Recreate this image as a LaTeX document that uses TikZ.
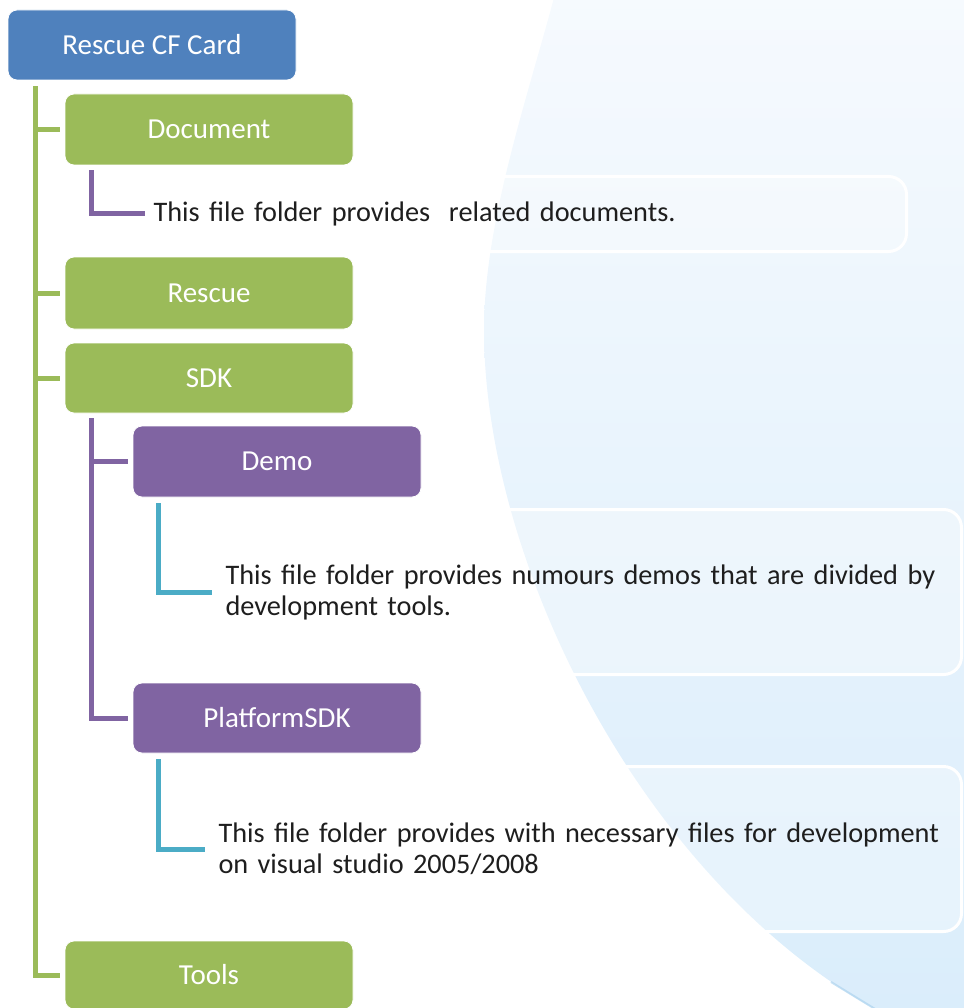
\documentclass[tikz,border=0pt]{standalone}
\usepackage{fontspec}
\setmainfont{Carlito}
\usepackage{xcolor}
\hyphenpenalty=10000

\definecolor{cardblue}{HTML}{4F81BD}
\definecolor{dirgreen}{HTML}{9BBB59}
\definecolor{subpurple}{HTML}{8064A2}
\definecolor{notecyan}{HTML}{4BACC6}
\definecolor{skytop}{HTML}{F6FAFE}
\definecolor{skybottom}{HTML}{DAEDFB}
\definecolor{skyrim}{HTML}{A6CFEC}
\definecolor{notetext}{HTML}{1E1E1E}

\tikzset{
	folder/.style={rectangle, rounded corners=9pt, draw=white, line width=0.8pt, minimum width=288pt, minimum height=71pt, inner sep=0pt, text=white, font=\fontsize{29}{31}\selectfont},
	note/.style={rectangle, rounded corners=18pt, draw=white, line width=3pt, fill=white, fill opacity=0.3, text opacity=1, text=notetext, align=left, anchor=north west, inner ysep=0pt, font=\fontsize{28.3}{31}\selectfont},
	trunk/.style={dirgreen, line width=5pt},
	subline/.style={subpurple, line width=5pt},
	noteline/.style={notecyan, line width=5pt}
}

\begin{document}
\begin{tikzpicture}[x=1pt, y=-1pt]
	\useasboundingbox (0,0) rectangle (963,1008);

	\shade[top color=skytop, bottom color=skybottom] (556,-10) .. controls (530,90) and (484,220) .. (484,330) .. controls (484,560) and (640,880) .. (880,1012) -- (970,1012) -- (970,-10) -- cycle;
	\draw[skyrim, line width=2pt, opacity=0.6] (831,982) -- (880,1012);

	\node[note, minimum height=75pt, inner xsep=7pt, text width=746pt] (note1) at (145,175) {This file folder provides\ \ related documents.};
	\node[note, minimum height=165pt, inner xsep=12pt, text width=724pt] (note2) at (212,508) {This file folder provides numours demos that are divided by\\development tools.};
	\node[note, minimum height=165pt, inner xsep=12pt, text width=731pt] (note3) at (205,765) {This file folder provides with necessary files for development\\on visual studio 2005/2008};

	\node[folder, fill=cardblue, minimum height=70pt] (root) at (152,45) {Rescue CF Card};
	\node[folder, fill=dirgreen] (doc) at (209,129.5) {Document};
	\node[folder, fill=dirgreen, minimum height=72pt] (rescue) at (209,293) {Rescue};
	\node[folder, fill=dirgreen, minimum height=70pt] (sdk) at (209,378) {SDK};
	\node[folder, fill=subpurple] (demo) at (277,461.5) {Demo};
	\node[folder, fill=subpurple, minimum height=70pt] (psdk) at (277,718) {PlatformSDK};
	\node[folder, fill=dirgreen, minimum height=68pt] (tools) at (209,975) {Tools};

	\coordinate (trunktop) at ([xshift=27.5pt,yshift=-6pt]root.south west);
	\draw[trunk] (trunktop) |- ([xshift=-5pt]tools.west);
	\foreach \n in {doc,rescue,sdk}
		\draw[trunk] (trunktop |- \n.west) -- ([xshift=-5pt]\n.west);

	\draw[subline] ([xshift=27pt,yshift=-5pt]doc.south west) |- (note1.west);
	\coordinate (sdkstem) at ([xshift=27pt,yshift=-5pt]sdk.south west);
	\draw[subline] (sdkstem) |- ([xshift=-5pt]psdk.west);
	\draw[subline] (sdkstem |- demo.west) -- ([xshift=-5pt]demo.west);

	\draw[noteline] ([xshift=26pt,yshift=-6pt]demo.south west) |- (note2.west);
	\draw[noteline] ([xshift=26pt,yshift=-6pt]psdk.south west) |- (note3.west);
\end{tikzpicture}
\end{document}
